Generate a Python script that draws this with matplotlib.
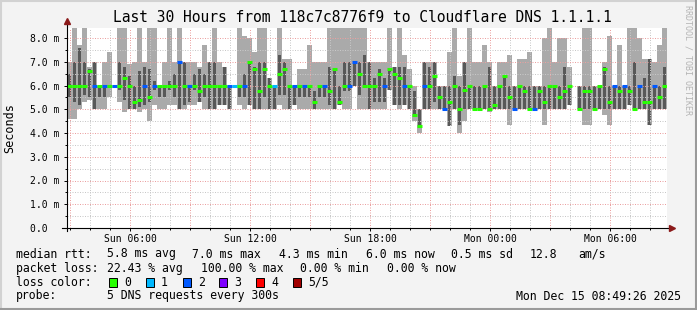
import numpy as np
import matplotlib
matplotlib.use('Agg')
import matplotlib.pyplot as plt
from matplotlib.patches import Rectangle
from matplotlib.lines import Line2D

plt.rcParams['font.family'] = 'DejaVu Sans Mono'

# one column = 15 min, first column starts Sun 02:51 (hours since Sun 00:00)
start_hour = 2.85
step = 0.25

# smoke: min / lower / median / upper / max ping in ms, and lost pings per step
p_min = [4.6, 4.6, 5.0, 5.3, 5.4, 5.0, 5.0, 5.0, 5.5, 6.0, 5.3, 4.9, 5.0, 5.0, 4.9, 5.0, 4.5, 5.2, 5.0, 5.0,
         5.2, 5.2, 5.0, 5.0, 5.2, 5.2, 5.3, 5.0, 5.0, 5.0, 5.2, 5.2, 5.0, 6.0, 5.2, 5.0, 5.2, 5.0, 5.0, 5.0,
         5.0, 5.0, 5.2, 5.0, 5.0, 5.2, 5.0, 5.0, 5.0, 5.0, 5.0, 5.0, 5.0, 5.0, 5.2, 5.0, 5.0, 6.0, 5.0, 5.0,
         5.0, 5.0, 5.0, 5.0, 5.8, 5.2, 5.0, 5.2, 5.0, 4.5, 4.0, 5.0, 5.0, 5.0, 5.0, 5.0, 4.3, 5.0, 4.0, 4.5,
         5.0, 5.0, 5.0, 5.0, 4.9, 5.0, 5.0, 5.0, 4.35, 5.0, 5.0, 5.0, 5.0, 5.0, 5.0, 4.35, 5.0, 5.0, 5.0, 5.0,
         5.2, np.nan, 5.0, 4.35, 4.35, 5.0, 5.0, 4.75, 4.35, 5.0, 5.0, 5.0, 5.2, 5.0, 5.0, 5.0, 4.35, 5.0, 5.0, 5.0]
p_low = [5.5, 5.3, 5.2, 5.6, 5.5, 5.0, 5.5, 5.5, 6.0, 6.0, 5.8, 5.4, 5.0, 5.0, 5.1, 5.2, 5.3, 5.8, 5.5, 5.5,
         5.8, 5.5, 5.0, 5.2, 5.3, 5.8, 5.3, 5.5, 5.0, 5.0, 5.2, 5.2, 5.0, 6.0, 5.5, 5.5, 5.2, 5.0, 5.0, 5.5,
         5.0, 5.0, 5.6, 5.6, 5.0, 5.2, 5.5, 5.5, 5.5, 5.0, 5.5, 5.5, 5.2, 5.0, 5.2, 5.75, 5.75, 6.0, 5.6, 6.0,
         5.0, 5.3, 5.3, 5.3, 5.8, 5.2, 5.2, 5.2, 5.0, 4.8, 4.3, 5.0, 5.0, 5.3, 5.0, 5.0, 4.3, 5.0, 4.35, 5.0,
         5.0, 5.0, 5.0, 5.0, 5.0, 5.0, 5.0, 5.0, 5.0, 5.0, 5.0, 5.0, 5.0, 5.0, 5.0, 5.0, 5.0, 5.0, 5.0, 5.0,
         5.2, np.nan, 5.0, 5.0, 5.0, 5.0, 5.0, 5.0, 5.0, 5.0, 5.0, 5.0, 5.2, 5.0, 5.0, 5.0, 4.35, 5.0, 5.0, 5.0]
p_med = [6.0, 6.0, 6.0, 6.0, 6.6, 6.0, 6.0, 6.0, 6.0, 6.0, 6.0, 6.3, 6.0, 5.3, 5.4, 6.0, 5.5, 6.0, 6.0, 6.0,
         6.0, 6.0, 7.0, 6.0, 6.0, 6.0, 5.75, 6.0, 6.0, 6.0, 6.0, 6.0, 6.0, 6.0, 6.0, 6.0, 7.0, 6.7, 5.75, 6.7,
         6.0, 6.0, 6.5, 6.7, 6.0, 6.0, 6.0, 6.0, 6.0, 5.3, 6.0, 6.0, 5.75, 6.7, 5.3, 6.0, 6.0, 7.0, 6.5, 6.0,
         6.0, 6.0, 6.5, 6.0, 6.7, 6.5, 6.3, 6.0, 6.0, 4.75, 4.3, 6.0, 6.0, 6.4, 5.5, 5.0, 5.3, 6.0, 5.0, 5.8,
         6.0, 5.0, 5.0, 6.0, 5.0, 5.2, 6.0, 6.4, 5.5, 5.0, 6.0, 5.75, 5.0, 5.0, 5.75, 5.3, 6.0, 6.0, 5.5, 5.75,
         6.0, np.nan, 5.0, 5.75, 5.75, 5.0, 6.0, 6.7, 5.3, 6.0, 5.75, 6.0, 5.75, 5.0, 6.0, 5.3, 5.3, 6.0, 5.5, 6.0]
p_up = [6.5, 7.0, 7.6, 7.0, 6.7, 7.0, 6.0, 6.0, 6.0, 6.0, 7.0, 6.8, 6.4, 6.0, 6.6, 6.8, 6.7, 6.2, 6.0, 6.0,
        6.2, 6.5, 7.0, 7.0, 6.0, 6.5, 6.7, 6.5, 7.0, 7.0, 6.0, 6.8, 6.0, 6.0, 6.0, 6.5, 7.0, 6.8, 7.0, 7.0,
        6.3, 6.0, 7.3, 7.0, 6.0, 6.0, 6.0, 6.0, 6.0, 5.75, 6.0, 6.0, 6.8, 6.7, 6.0, 7.0, 7.0, 7.0, 7.0, 7.3,
        7.0, 6.3, 6.7, 6.3, 6.7, 6.8, 6.8, 6.8, 6.0, 5.75, 5.0, 7.0, 6.8, 7.0, 6.0, 6.0, 6.0, 6.4, 6.0, 7.0,
        6.0, 6.0, 6.0, 6.0, 6.8, 6.0, 6.0, 6.4, 6.0, 6.0, 6.0, 6.0, 6.0, 6.0, 6.0, 6.0, 6.0, 6.0, 6.0, 6.8,
        6.0, np.nan, 6.0, 6.0, 6.0, 6.0, 6.0, 6.8, 6.0, 6.0, 6.0, 6.0, 6.0, 7.0, 6.0, 6.3, 7.1, 6.0, 6.0, 6.8]
p_max = [7.0, 8.5, 7.7, 8.5, 6.8, 7.0, 6.0, 7.0, 7.4, 6.0, 8.5, 8.5, 6.9, 7.0, 8.5, 7.0, 8.5, 8.5, 6.0, 7.0,
         8.5, 7.0, 8.5, 7.0, 7.0, 7.0, 6.8, 7.7, 7.0, 8.5, 7.0, 6.8, 6.0, 6.0, 8.5, 8.1, 8.0, 7.4, 8.5, 8.5,
         6.3, 6.0, 8.5, 7.1, 7.1, 6.0, 6.7, 6.7, 7.7, 7.0, 7.0, 7.0, 8.5, 8.5, 8.5, 8.5, 8.5, 8.5, 8.5, 8.5,
         7.0, 7.0, 7.0, 7.0, 8.5, 6.8, 8.5, 7.3, 6.7, 6.0, 5.0, 7.0, 7.0, 7.0, 6.0, 6.0, 7.4, 8.5, 6.4, 7.0,
         8.5, 7.0, 7.0, 7.7, 7.0, 6.0, 7.0, 7.0, 7.3, 6.0, 7.1, 7.1, 7.4, 6.0, 6.0, 8.0, 8.5, 7.0, 8.0, 8.0,
         6.8, np.nan, 6.0, 8.5, 8.5, 6.0, 6.0, 7.0, 8.1, 6.0, 7.7, 6.0, 8.5, 8.5, 8.0, 7.1, 7.1, 7.0, 7.7, 8.5]
loss = [0, 0, 0, 0, 0, 2, 0, 2, 0, 2, 0, 0, 0, 0, 0, 2, 0, 2, 0, 0,
        0, 0, 2, 0, 2, 0, 0, 0, 0, 0, 0, 0, 2, 1, 0, 2, 0, 0, 0, 0,
        0, 1, 0, 0, 0, 2, 0, 2, 0, 0, 0, 2, 0, 0, 0, 0, 2, 2, 0, 0,
        0, 0, 0, 2, 0, 0, 0, 2, 0, 0, 0, 2, 0, 0, 0, 2, 0, 0, 0, 0,
        0, 0, 0, 0, 0, 0, 0, 0, 0, 2, 0, 0, 0, 2, 0, 0, 0, 0, 0, 0,
        0, 0, 0, 0, 0, 0, 0, 0, 0, 2, 0, 2, 0, 0, 2, 0, 0, 2, 0, 0]

loss_colors = ['#26ff00', '#00b8ff', '#0059ff', '#7e00ff', '#ff0000', '#a10000']
loss_labels = ['0', '1', '2', '3', '4', '5/5']

tick_hours = [6, 12, 18, 24, 30]
tick_names = ['Sun 06:00', 'Sun 12:00', 'Sun 18:00', 'Mon 00:00', 'Mon 06:00']

W, H = 697, 310
fig = plt.figure(figsize=(W / 100, H / 100), dpi=100, facecolor='#f3f3f3')
ax = fig.add_axes([67 / W, (H - 228) / H, 600 / W, 200 / H])
ax.set_facecolor('white')
ax.set_xlim(start_hour, start_hour + 30)
ax.set_ylim(0, 200 / 23.75)

lo = np.array(p_min)
q1 = np.array(p_low)
md = np.array(p_med)
q3 = np.array(p_up)
hi = np.array(p_max)
x = start_hour + step * np.arange(len(lo))
ok = ~np.isnan(md)

# smoke: outer pair light, inner pair dark
ax.bar(x[ok], (hi - lo)[ok], bottom=lo[ok], width=step, align='edge',
       color='#aaaaaa', lw=0, zorder=1)
ax.bar(x[ok] + 0.2 * step, (q3 - q1)[ok], bottom=q1[ok], width=0.6 * step, align='edge',
       color='#585858', lw=0, zorder=1.5)

# grid (rrdtool style dotted)
for h in range(3, 33):
    c = '#eba0a0' if h % 3 == 0 else '#c8c8c8'
    ax.axvline(h, color=c, lw=0.72, ls=(0, (1, 1.5)), zorder=2)
for v in np.arange(0.5, 8.01, 0.5):
    c = '#eba0a0' if v % 1 == 0 else '#c8c8c8'
    ax.axhline(v, color=c, lw=0.72, ls=(0, (1, 1.5)), zorder=2)

# median coloured by loss
cols = [loss_colors[l] for l in np.array(loss)[ok]]
ax.hlines(md[ok], x[ok], x[ok] + step, colors=cols, lw=2.2, zorder=4)

for s in ax.spines.values():
    s.set_visible(False)

ax.set_yticks(range(9))
ax.set_yticklabels(['0.0  '] + ['%d.0 m' % v for v in range(1, 9)])
ax.set_yticks(np.arange(0.5, 8.5, 1.0), minor=True)
ax.set_xticks(tick_hours)
ax.set_xticklabels(tick_names)
ax.set_xticks(range(3, 33), minor=True)
ax.tick_params(axis='both', which='major', direction='out', length=2.5, width=0.7, labelsize=7)
ax.tick_params(axis='both', which='minor', direction='out', length=1.5, width=0.7)
ax.tick_params(axis='y', pad=3)
ax.tick_params(axis='x', pad=2)

# axes with arrows
ax.plot([0, 0], [-0.015, 1.03], transform=ax.transAxes, color='black', lw=0.8, clip_on=False, zorder=5)
ax.plot([-0.008, 1.006], [0, 0], transform=ax.transAxes, color='black', lw=0.8, clip_on=False, zorder=5)
ax.plot(0, 1.035, marker='^', ms=4, color='#8b1a1a', transform=ax.transAxes, clip_on=False, zorder=6)
ax.plot(1.009, 0, marker='>', ms=4, color='#8b1a1a', transform=ax.transAxes, clip_on=False, zorder=6)

def fy(y):
    return 1 - y / H

fig.text(362 / W, fy(18), 'Last 30 Hours from 118c7c8776f9 to Cloudflare DNS 1.1.1.1',
         ha='center', va='center', fontsize=10.5)
fig.text(10 / W, fy(128), 'Seconds', rotation=90, ha='center', va='center', fontsize=8.5)
fig.text(688 / W, fy(5), 'RRDTOOL / TOBI OETIKER', rotation=270, ha='center', va='top',
         fontsize=6, color='#b4b4b4')

fs = 8.3
rows = [
    (254, [(16, 'median rtt:'), (107, '5.8 ms avg'), (192, '7.0 ms max'), (279, '4.3 ms min'),
           (366, '6.0 ms now'), (451, '0.5 ms sd'), (530, '12.8'), (578, 'am/s')]),
    (268.5, [(16, 'packet loss:'), (107, '22.43 % avg'), (201, '100.00 % max'), (300, '0.00 % min'),
             (387, '0.00 % now')]),
    (282, [(16, 'loss color:')]),
    (296, [(16, 'probe:'), (107, '5 DNS requests every 300s')]),
]
for y, items in rows:
    for xx, t in items:
        fig.text(xx / W, fy(y), t, ha='left', va='center', fontsize=fs)
fig.text(681 / W, fy(296), 'Mon Dec 15 08:49:26 2025', ha='right', va='center', fontsize=fs)

box_x = [109, 146, 183, 219, 256, 293]
for bx, c, lab in zip(box_x, loss_colors, loss_labels):
    fig.add_artist(Rectangle((bx / W, fy(286.5)), 8 / W, 9 / H, transform=fig.transFigure,
                             fc=c, ec='black', lw=0.7))
    fig.text((bx + 15) / W, fy(282), lab, ha='left', va='center', fontsize=fs)

# 3d-ish frame
fig.add_artist(Line2D([0, 1], [fy(0.5), fy(0.5)], transform=fig.transFigure, color='#d2d2d2', lw=1.5))
fig.add_artist(Line2D([0.5 / W, 0.5 / W], [0, 1], transform=fig.transFigure, color='#d2d2d2', lw=1.5))
fig.add_artist(Line2D([0, 1], [fy(309), fy(309)], transform=fig.transFigure, color='#9a9a9a', lw=1.5))
fig.add_artist(Line2D([696 / W, 696 / W], [0, 1], transform=fig.transFigure, color='#9a9a9a', lw=1.5))

fig.savefig('out.png', dpi=100, facecolor=fig.get_facecolor())
